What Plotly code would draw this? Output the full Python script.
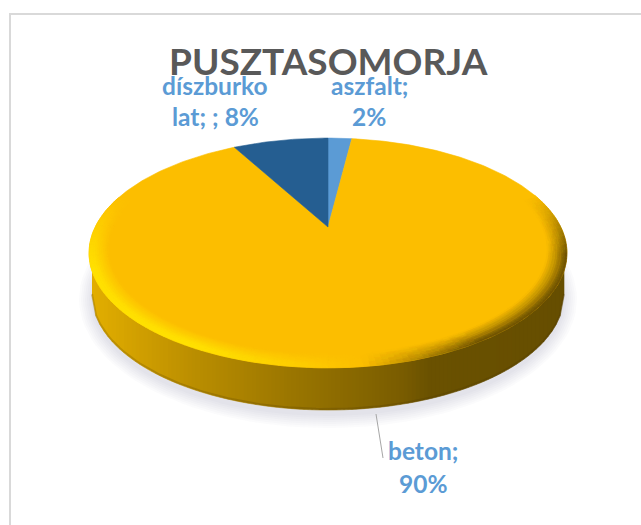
import math
import plotly.graph_objects as go

# ---- data ----
categories = ["aszfalt", "beton", "díszburkolat"]
values = [2, 90, 8]
slice_colors = ["#5B9BD5", "#FCBE00", "#255E91"]
title_text = "PUSZTASOMORJA"
label_lines = [["aszfalt;", "2%"], ["beton;", "90%"], ["díszburko", "lat; ; 8%"]]

# ---- drawing constants (pixels: axes are set up 1:1 with the page) ----
W, H = 641, 525
CX, APEX_Y = 328, 227
A, B, K = 232.8, 109.0, 0.226
TOP_CY, TOP_A, TOP_B = 253, 239, 115
BOT_CY, BOT_A, BOT_B = 295, 236, 115


def proj(theta, rho=1.0):
    u, v = rho * math.sin(theta), rho * math.cos(theta)
    s = 1 / (1 + K * v)
    return CX + A * u * s, APEX_Y - B * v * s


def lerp(c1, c2, t):
    t = max(0, min(1, t))
    return tuple(round(a + (b - a) * t) for a, b in zip(c1, c2))


def hexc(c):
    return "#%02X%02X%02X" % tuple(c)


fig = go.Figure()


def poly(xs, ys, fill, line=None):
    fig.add_trace(go.Scatter(x=xs, y=ys, mode="lines", fill="toself", fillcolor=fill,
                             line=dict(color=line or "rgba(0,0,0,0)", width=0.6 if line else 0),
                             hoverinfo="skip", showlegend=False))


# soft drop shadow
for grow in [14, 12, 10, 8, 6, 4, 2]:
    xs, ys = [], []
    for i in range(121):
        a = 2 * math.pi * i / 120
        xs.append(CX + (BOT_A + grow - 1) * math.cos(a))
        ys.append(BOT_CY + 4 + (BOT_B + grow) * math.sin(a))
    poly(xs, ys, "rgba(110,110,130,0.028)")

# side wall, gradient left to right
wall_stops = [(92, (226, 174, 0)), (130, (212, 162, 0)), (200, (184, 140, 0)),
              (300, (152, 116, 0)), (400, (122, 93, 0)), (430, (106, 81, 0)), (564, (102, 78, 0))]


def wall_color(x):
    for (x0, c0), (x1, c1) in zip(wall_stops, wall_stops[1:]):
        if x <= x1:
            return lerp(c0, c1, (x - x0) / (x1 - x0))
    return wall_stops[-1][1]


def bot_y(x):
    r = max(0, 1 - ((x - CX) / BOT_A) ** 2)
    return BOT_CY + BOT_B * math.sqrt(r)


STEP = 4
x = 92
while x < 564:
    x2 = min(x + STEP, 564)
    c = hexc(wall_color((x + x2) / 2))
    poly([x, x2, x2, x], [TOP_CY, TOP_CY, bot_y(x2), bot_y(x)], c, c)
    x = x2

# thin darker lower edge of wall
ex = list(range(92, 565, 4))
fig.add_trace(go.Scatter(x=ex, y=[bot_y(v) - 1 for v in ex], mode="lines",
                         line=dict(color="rgba(70,50,0,0.2)", width=2),
                         hoverinfo="skip", showlegend=False))

# top face slices, clockwise from 12 o'clock
total = sum(values)
starts = []
acc = 0
for v in values:
    starts.append(acc)
    acc += v
for start, v, col in zip(starts, values, slice_colors):
    a0, a1 = 2 * math.pi * start / total, 2 * math.pi * (start + v) / total
    n = max(4, int(v * 4))
    pts = [proj(a0 + (a1 - a0) * i / n) for i in range(n + 1)]
    xs = [CX] + [p[0] for p in pts] + [CX]
    ys = [APEX_Y] + [p[1] for p in pts] + [APEX_Y]
    poly(xs, ys, col, col)

# bevel on the large slice
BASE = (252, 190, 0)
BRIGHT = (255, 224, 0)
DARK = (104, 78, 0)
start = starts[1]
v = values[1]
a0, a1 = 2 * math.pi * start / total, 2 * math.pi * (start + v) / total
NR = 10
RHOS = [1.0 - 0.08 * j / NR for j in range(NR + 1)]
groups = {}
NA = 240
for i in range(NA):
    t0, t1 = a0 + (a1 - a0) * i / NA, a0 + (a1 - a0) * (i + 1) / NA
    tm = (t0 + t1) / 2
    u, w = math.sin(tm), math.cos(tm)
    shade = -(u - 0.12) * max(0, 0.3 - w) / 1.3
    for j in range(NR):
        fade = 1 - (j + 0.5) / NR
        if shade >= 0:
            s = min(1, shade * 1.9) * min(1, fade * 1.3)
            c = lerp(BASE, BRIGHT, s)
        else:
            s = min(1, -shade * 2.8) * fade ** 1.1
            c = lerp(BASE, DARK, s)
        q = hexc(tuple(int(round(ch / 6) * 6) if ch < 186 else ch for ch in c))
        if q == hexc(BASE):
            continue
        p = [proj(t0, RHOS[j]), proj(t1, RHOS[j]), proj(t1, RHOS[j + 1]), proj(t0, RHOS[j + 1])]
        g = groups.setdefault(q, ([], []))
        g[0].extend([pt[0] for pt in p] + [p[0][0], None])
        g[1].extend([pt[1] for pt in p] + [p[0][1], None])
for col, (xs, ys) in groups.items():
    poly(xs, ys, col, col)

# leader line for beton
fig.add_trace(go.Scatter(x=[376, 383], y=[414, 458], mode="lines",
                         line=dict(color="#A6A6A6", width=1), hoverinfo="skip", showlegend=False))

# chart frame: only the top and left edges show in the picture
fig.add_trace(go.Scatter(x=[10, 10, W], y=[H, 14, 14], mode="lines",
                         line=dict(color="#D9D9D9", width=2), hoverinfo="skip", showlegend=False))

# texts
LABEL = "Lato"
label_pos = [(369, [85, 116]), (423, [450, 483]), (215, [85, 116])]
annots = [dict(x=328, y=60, text=title_text, showarrow=False, xref="x", yref="y",
               font=dict(family=LABEL, size=37, color="#595959", weight=700))]
for lines, (lx, lys) in zip(label_lines, label_pos):
    for t, ly in zip(lines, lys):
        annots.append(dict(x=lx, y=ly, text=t, showarrow=False, xref="x", yref="y",
                           font=dict(family=LABEL, size=24.5, color="#5B9BD5", weight=700)))

fig.update_layout(
    width=W, height=H, autosize=False,
    margin=dict(l=0, r=0, t=0, b=0),
    paper_bgcolor="white", plot_bgcolor="white",
    showlegend=False,
    xaxis=dict(range=[0, W], visible=False, fixedrange=True),
    yaxis=dict(range=[H, 0], visible=False, fixedrange=True),
    annotations=annots,
)
fig.write_html("out.html", config={"displayModeBar": False},
               post_script="document.body.style.margin='0';document.body.style.overflow='hidden';")
